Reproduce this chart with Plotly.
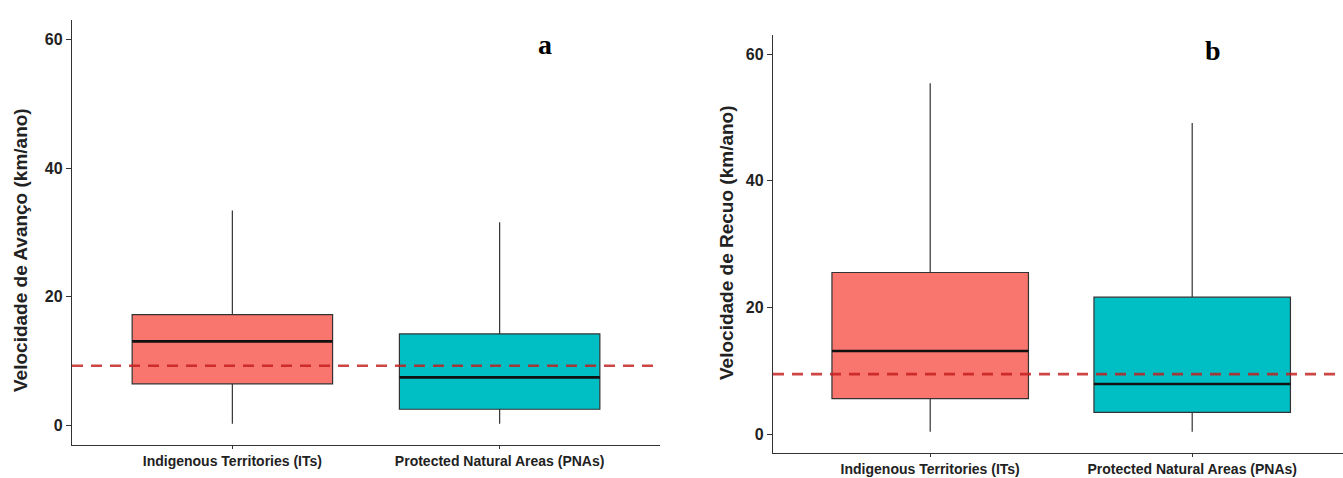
import plotly.graph_objects as go

W, H = 1343, 478

categories = ["Indigenous Territories (ITs)", "Protected Natural Areas (PNAs)"]
cat_pos = [1, 2]
box_colors = ["#F8766D", "#00BFC4"]

# Panel a: Velocidade de Avanço
a_lower = [0.3, 0.3]
a_q1 = [6.5, 2.55]
a_median = [13.1, 7.5]
a_q3 = [17.25, 14.25]
a_upper = [33.4, 31.6]
a_ref = 9.3

# Panel b: Velocidade de Recuo
b_lower = [0.35, 0.35]
b_q1 = [5.6, 3.4]
b_median = [13.1, 7.9]
b_q3 = [25.5, 21.6]
b_upper = [55.4, 49.1]
b_ref = 9.45

y_ticks = [0, 20, 40, 60]
box_width = 0.75

fig = go.Figure()

panels = [
    dict(xa="x", ya="y", lower=a_lower, q1=a_q1, med=a_median, q3=a_q3, up=a_upper, ref=a_ref),
    dict(xa="x2", ya="y2", lower=b_lower, q1=b_q1, med=b_median, q3=b_q3, up=b_upper, ref=b_ref),
]

for p in panels:
    for i in range(len(categories)):
        fig.add_trace(go.Box(
            x=[cat_pos[i]], q1=[p["q1"][i]], median=[p["med"][i]], q3=[p["q3"][i]],
            lowerfence=[p["lower"][i]], upperfence=[p["up"][i]],
            width=box_width, whiskerwidth=0,
            fillcolor=box_colors[i], line=dict(color="#333333", width=1.2),
            boxpoints=False, hoverinfo="skip", showlegend=False,
            xaxis=p["xa"], yaxis=p["ya"],
        ))
        # thicker median line
        fig.add_trace(go.Scatter(
            x=[cat_pos[i] - box_width / 2, cat_pos[i] + box_width / 2],
            y=[p["med"][i], p["med"][i]], mode="lines",
            line=dict(color="#111111", width=2.6), hoverinfo="skip", showlegend=False,
            xaxis=p["xa"], yaxis=p["ya"],
        ))
    fig.add_shape(type="line", xref=p["xa"] + " domain", yref=p["ya"],
                  x0=0, x1=1, y0=p["ref"], y1=p["ref"], layer="above",
                  line=dict(color="rgba(195,28,28,0.82)", width=2.6, dash="11px,8px"))

xtickfont = dict(family="Liberation Sans Narrow, Arial Narrow, Liberation Sans", size=14,
                 color="#222222", weight="bold")
ytickfont = dict(family="Liberation Sans Narrow, Arial Narrow, Liberation Sans", size=16,
                 color="#222222", weight="bold")
axis_common = dict(showline=True, linecolor="#333333", linewidth=1.3, showgrid=False,
                   zeroline=False, ticks="outside", tickcolor="#333333",
                   tickwidth=1.1)

fig.update_layout(
    width=W, height=H, margin=dict(l=0, r=0, t=0, b=0),
    paper_bgcolor="white", plot_bgcolor="white",
    xaxis=dict(domain=[72 / W, 660 / W], range=[0.4, 2.6], tickvals=cat_pos,
               ticktext=categories, anchor="y", ticklen=3, tickfont=xtickfont, **axis_common),
    yaxis=dict(domain=[(H - 445) / H, (H - 20) / H], range=[-3, 63], tickvals=y_ticks,
               anchor="x", ticklen=5, tickfont=ytickfont, **axis_common),
    xaxis2=dict(domain=[773 / W, 1.0], range=[0.4, 0.4 + (W - 773) / 262.0], tickvals=cat_pos,
                ticktext=categories, anchor="y2", ticklen=3, tickfont=xtickfont, **axis_common),
    yaxis2=dict(domain=[(H - 453) / H, (H - 35) / H], range=[-3, 63], tickvals=y_ticks,
                anchor="x2", ticklen=5, tickfont=ytickfont, **axis_common),
)

title_font = dict(family="Liberation Sans, Arial", size=19, color="#222222", weight="bold")
fig.add_annotation(text="Velocidade de Avanço (km/ano)", textangle=-90, font=title_font,
                   xref="paper", yref="paper", x=20 / W, y=(H - 250) / H, showarrow=False,
                   xanchor="center", yanchor="middle")
fig.add_annotation(text="Velocidade de Recuo (km/ano)", textangle=-90, font=title_font,
                   xref="paper", yref="paper", x=726 / W, y=(H - 243) / H, showarrow=False,
                   xanchor="center", yanchor="middle")

letter_font = dict(family="Liberation Serif, Times New Roman", size=28, color="#000000", weight="bold")
fig.add_annotation(text="a", font=letter_font, xref="paper", yref="paper",
                   x=545 / W, y=(H - 44) / H, showarrow=False, xanchor="center", yanchor="middle")
fig.add_annotation(text="b", font=letter_font, xref="paper", yref="paper",
                   x=1213 / W, y=(H - 51) / H, showarrow=False, xanchor="center", yanchor="middle")

fig.write_html("out.html", config={"displayModeBar": False},
               post_script="document.body.style.margin='0';document.body.style.overflow='hidden';")
